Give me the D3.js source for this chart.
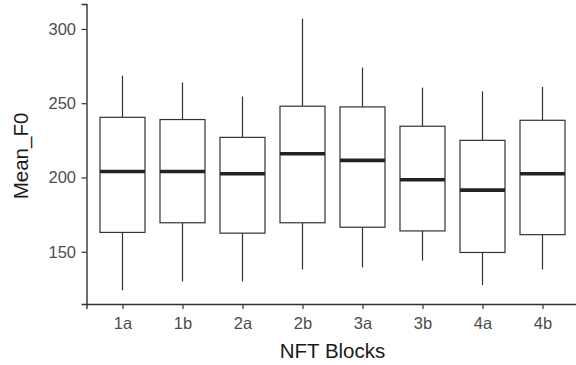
<!DOCTYPE html>
<html>
<head>
<meta charset="utf-8">
<script src="https://cdn.jsdelivr.net/npm/d3@7"></script>
<style>
  html, body { margin: 0; padding: 0; background: #fff; }
  svg { display: block; font-family: "Liberation Sans", Arial, sans-serif; }
</style>
</head>
<body>
<svg id="chart" width="576" height="365"></svg>
<script>
// Mean F0 per NFT block: five-number summaries for each box
const blocks      = ["1a", "1b", "2a", "2b", "3a", "3b", "4a", "4b"];
const whiskerLow  = [124, 130, 130, 138, 139.5, 144, 127.5, 138];
const q1          = [163, 169.5, 162.5, 169.5, 166.5, 164, 149.5, 161.5];
const median      = [204, 204, 202.5, 216, 211.5, 198.5, 191.5, 202.5];
const q3          = [240.5, 239, 227, 248, 247.5, 234.5, 225, 238.5];
const whiskerHigh = [268.5, 264, 254.5, 307, 274, 260.5, 258, 261];
const yTicks      = [150, 200, 250, 300];

const rows = blocks.map((b, i) => ({
  block: b, lo: whiskerLow[i], q1: q1[i], med: median[i], q3: q3[i], hi: whiskerHigh[i]
}));

const svg = d3.select("#chart");
const plot = { left: 86.5, right: 578.5, top: 4, bottom: 304 };

const x = d3.scalePoint()
  .domain(blocks)
  .range([plot.left, plot.right])
  .padding(0.6);

const y = d3.scaleLinear()
  .domain([114.8, 316.8])
  .range([plot.bottom, plot.top]);

const boxW = x.step() * 0.75;
const ink = "#333333";

const g = svg.append("g");

// whiskers
g.selectAll("line.whisker-hi").data(rows).join("line")
  .attr("x1", d => x(d.block)).attr("x2", d => x(d.block))
  .attr("y1", d => y(d.q3)).attr("y2", d => y(d.hi))
  .attr("stroke", ink).attr("stroke-width", 1.2);
g.selectAll("line.whisker-lo").data(rows).join("line")
  .attr("x1", d => x(d.block)).attr("x2", d => x(d.block))
  .attr("y1", d => y(d.q1)).attr("y2", d => y(d.lo))
  .attr("stroke", ink).attr("stroke-width", 1.2);

// boxes
g.selectAll("rect.box").data(rows).join("rect")
  .attr("class", "box")
  .attr("x", d => x(d.block) - boxW / 2)
  .attr("width", boxW)
  .attr("y", d => y(d.q3))
  .attr("height", d => y(d.q1) - y(d.q3))
  .attr("fill", "#fff")
  .attr("stroke", ink).attr("stroke-width", 1.2);

// medians
g.selectAll("line.median").data(rows).join("line")
  .attr("x1", d => x(d.block) - boxW / 2).attr("x2", d => x(d.block) + boxW / 2)
  .attr("y1", d => y(d.med)).attr("y2", d => y(d.med))
  .attr("stroke", "#222").attr("stroke-width", 3.6);

// axes
const yAxis = svg.append("g")
  .attr("transform", `translate(${plot.left},0)`)
  .call(d3.axisLeft(y).tickValues(yTicks).tickSizeOuter(0).tickSize(5).tickPadding(5.5));
const xAxis = svg.append("g")
  .attr("transform", `translate(0,${plot.bottom})`)
  .call(d3.axisBottom(x).tickSizeOuter(0).tickSize(5).tickPadding(8));

[yAxis, xAxis].forEach(a => {
  a.select(".domain").attr("stroke", ink).attr("stroke-width", 1.4);
  a.selectAll(".tick line").attr("stroke", ink).attr("stroke-width", 1.2);
  a.selectAll(".tick text")
    .attr("fill", "#4d4d4d")
    .style("font-size", "16.5px")
    .style("font-family", "'Liberation Sans', Arial, sans-serif");
});

// axis titles
svg.append("text")
  .attr("x", (plot.left + plot.right) / 2)
  .attr("y", 358)
  .attr("text-anchor", "middle")
  .attr("fill", "#1a1a1a")
  .style("font-size", "20.5px")
  .text("NFT Blocks");

svg.append("text")
  .attr("transform", `translate(27.5,156) rotate(-90)`)
  .attr("text-anchor", "middle")
  .attr("fill", "#1a1a1a")
  .style("font-size", "20.5px")
  .text("Mean_F0");
</script>
</body>
</html>
